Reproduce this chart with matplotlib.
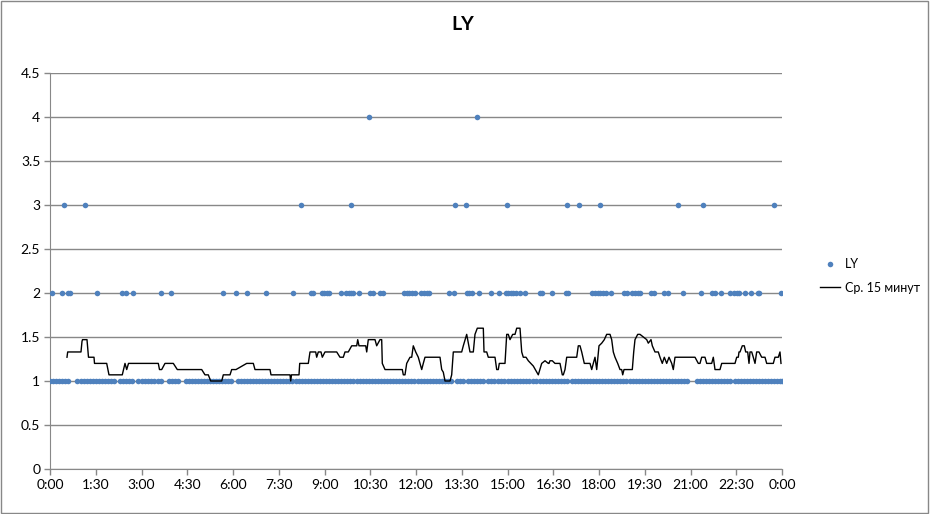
import numpy as np
import matplotlib
matplotlib.use('Agg')
import matplotlib.pyplot as plt
from matplotlib.patches import Rectangle

# time of day in hours, LY value at that time
t_one = [0.0, 0.1, 0.2, 0.3, 0.4, 0.5, 0.6,
         0.9, 1.0, 1.1, 1.2, 1.3, 1.4, 1.5, 1.6, 1.7, 1.8, 1.9, 2.0, 2.1,
         2.3, 2.4, 2.5, 2.6, 2.7, 2.9, 3.0, 3.1, 3.2, 3.3, 3.4, 3.55, 3.65,
         3.9, 4.0, 4.1, 4.2, 4.45, 4.55, 4.65, 4.75, 4.85, 4.95, 5.05, 5.15, 5.25,
         5.35, 5.45, 5.55, 5.65, 5.75, 5.85, 5.95,
         6.15, 6.25, 6.35, 6.45, 6.55, 6.65, 6.75, 6.85, 6.95, 7.05, 7.15, 7.25,
         7.35, 7.45, 7.55, 7.65, 7.75, 7.85, 7.95, 8.05, 8.15, 8.25, 8.35, 8.45,
         8.55, 8.65, 8.75, 8.85, 8.95, 9.05, 9.15, 9.25, 9.35, 9.45, 9.55, 9.65,
         9.75, 9.85, 9.95, 10.05, 10.15, 10.25, 10.35, 10.45, 10.55, 10.65, 10.75,
         10.85, 10.95, 11.05, 11.15, 11.25, 11.35, 11.45, 11.55, 11.65, 11.75,
         11.85, 11.95, 12.05, 12.15, 12.25, 12.35, 12.45, 12.55, 12.65, 12.75,
         12.85, 12.95, 13.05, 13.15, 13.35, 13.45, 13.55,
         13.7, 13.8, 13.9, 14.0, 14.1, 14.2, 14.35, 14.45, 14.55,
         14.7, 14.8, 14.9, 15.0, 15.1, 15.2, 15.3, 15.4, 15.5, 15.6, 15.7,
         15.85, 15.95, 16.05, 16.15, 16.25, 16.35, 16.45, 16.55, 16.65, 16.75, 16.85, 16.95,
         17.1, 17.2, 17.3, 17.4, 17.5, 17.6, 17.7, 17.8, 17.9, 18.0, 18.1,
         18.2, 18.3, 18.4, 18.5, 18.6, 18.7, 18.8, 18.9, 19.0, 19.1, 19.2, 19.3, 19.4, 19.5,
         19.6, 19.7, 19.8, 19.9, 20.0, 20.1, 20.2, 20.3, 20.4, 20.5, 20.6, 20.7, 20.8, 20.9,
         21.2, 21.3, 21.4, 21.5, 21.6, 21.7, 21.8, 21.9, 22.0, 22.1, 22.2, 22.3,
         22.45, 22.55, 22.65, 22.75, 22.85, 22.95, 23.05, 23.15, 23.25, 23.35,
         23.45, 23.55, 23.65, 23.75, 23.85, 23.95, 24.0]
t_two = [0.075, 0.403, 0.58, 0.656, 1.531, 2.37, 2.492, 2.731, 3.629, 3.967,
         5.682, 6.108, 6.449, 7.092, 7.957, 8.557, 8.613, 8.908, 8.993, 9.072,
         9.157, 9.531, 9.705, 9.793, 9.879, 9.944, 10.141, 10.492, 10.58, 10.82,
         10.908, 11.607, 11.695, 11.78, 11.869, 11.957, 12.174, 12.262, 12.35,
         12.436, 13.092, 13.256, 13.662, 13.748, 13.836, 14.056, 14.459, 14.711,
         14.951, 15.026, 15.105, 15.19, 15.279, 15.41, 15.584, 16.066, 16.141,
         16.449, 16.918, 16.993, 17.78, 17.869, 17.957, 18.043, 18.131, 18.22,
         18.393, 18.83, 18.918, 19.092, 19.18, 19.269, 19.354, 19.705, 19.793,
         20.131, 20.272, 20.754, 21.334, 21.705, 21.803, 21.99, 22.285, 22.436,
         22.525, 22.59, 22.787, 22.994, 23.203, 23.246, 23.957]
t_three = [0.469, 1.138, 8.23, 9.869, 13.269, 13.639, 14.993, 16.941, 17.334,
           18.023, 20.6, 21.4, 23.728]
t_four = [10.449, 13.99]

# 15 minute average line
avg_t = [0.557, 0.58, 1.016, 1.049, 1.066, 1.213, 1.246, 1.262, 1.443, 1.459,
         1.859, 1.934, 2.37, 2.459, 2.515, 2.574, 2.623, 3.551, 3.59, 3.662,
         3.77, 3.934, 4.043, 4.174, 4.974, 5.082, 5.19, 5.269, 5.63, 5.682,
         5.902, 5.957, 6.098, 6.449, 6.666, 6.721, 7.213, 7.246, 7.869, 7.892,
         7.918, 8.164, 8.187, 8.469, 8.525, 8.711, 8.744, 8.797, 8.885, 8.928,
         9.016, 9.4, 9.508, 9.616, 9.672, 9.78, 9.892, 10.056, 10.089, 10.131,
         10.22, 10.351, 10.384, 10.436, 10.656, 10.711, 10.82, 10.875, 10.895,
         10.984, 11.551, 11.584, 11.639, 11.695, 11.803, 11.859, 11.911, 11.99,
         12.075, 12.187, 12.239, 12.295, 12.37, 12.787, 12.843, 12.895, 12.951,
         13.115, 13.17, 13.223, 13.498, 13.551, 13.662, 13.77, 13.879, 13.934,
         14.01, 14.207, 14.23, 14.318, 14.37, 14.59, 14.646, 14.698, 14.731,
         14.918, 14.974, 15.026, 15.082, 15.17, 15.246, 15.302, 15.41, 15.466,
         15.518, 15.607, 15.682, 15.846, 16.01, 16.121, 16.23, 16.338, 16.361,
         16.393, 16.469, 16.557, 16.721, 16.797, 16.83, 16.885, 16.941, 17.269,
         17.321, 17.377, 17.433, 17.518, 17.705, 17.761, 17.813, 17.869, 17.925,
         18.0, 18.089, 18.174, 18.252, 18.305, 18.361, 18.416, 18.469, 18.525,
         18.613, 18.689, 18.744, 18.777, 18.82, 19.092, 19.138, 19.18, 19.269,
         19.344, 19.452, 19.564, 19.616, 19.705, 19.748, 19.836, 19.944, 20.0,
         20.075, 20.141, 20.22, 20.295, 20.384, 20.436, 20.492, 21.148, 21.256,
         21.311, 21.367, 21.475, 21.531, 21.695, 21.748, 21.803, 21.967, 22.023,
         22.459, 22.515, 22.567, 22.59, 22.623, 22.698, 22.764, 22.81, 22.875,
         22.918, 22.951, 23.007, 23.059, 23.115, 23.17, 23.246, 23.334, 23.443,
         23.498, 23.715, 23.77, 23.879, 23.934, 23.967]
avg_v = [1.27, 1.33, 1.33, 1.45, 1.47, 1.47, 1.33, 1.27, 1.27, 1.2,
         1.2, 1.07, 1.07, 1.2, 1.13, 1.2, 1.2, 1.2, 1.13, 1.13,
         1.2, 1.2, 1.2, 1.13, 1.13, 1.07, 1.07, 1.0, 1.0, 1.07,
         1.07, 1.13, 1.13, 1.2, 1.2, 1.13, 1.13, 1.07, 1.07, 1.0,
         1.07, 1.07, 1.2, 1.2, 1.33, 1.33, 1.27, 1.33, 1.33, 1.27,
         1.33, 1.33, 1.27, 1.27, 1.33, 1.33, 1.4, 1.4, 1.47, 1.4,
         1.4, 1.4, 1.33, 1.47, 1.47, 1.4, 1.47, 1.47, 1.2,
         1.13, 1.13, 1.07, 1.07, 1.2, 1.27, 1.27, 1.4, 1.33,
         1.27, 1.13, 1.2, 1.27, 1.27, 1.27, 1.13, 1.1, 1.0,
         1.0, 1.07, 1.33, 1.33, 1.4, 1.53, 1.33, 1.33, 1.53,
         1.6, 1.6, 1.33, 1.33, 1.27, 1.27, 1.13, 1.13, 1.2,
         1.2, 1.53, 1.53, 1.47, 1.53, 1.53, 1.6, 1.6, 1.33,
         1.27, 1.27, 1.23, 1.17, 1.07, 1.2, 1.23, 1.2, 1.2,
         1.23, 1.23, 1.2, 1.2, 1.07, 1.07, 1.13, 1.27, 1.27,
         1.4, 1.4, 1.33, 1.2, 1.2, 1.13, 1.2, 1.27, 1.13,
         1.4, 1.43, 1.47, 1.53, 1.53, 1.53, 1.47, 1.33, 1.27,
         1.2, 1.13, 1.13, 1.07, 1.13, 1.13, 1.33, 1.47, 1.53,
         1.53, 1.5, 1.47, 1.43, 1.47, 1.4, 1.33, 1.33, 1.27,
         1.2, 1.27, 1.2, 1.27, 1.2, 1.13, 1.27, 1.27, 1.2,
         1.2, 1.27, 1.27, 1.2, 1.2, 1.27, 1.13, 1.13, 1.2,
         1.2, 1.27, 1.27, 1.33, 1.33, 1.4, 1.4, 1.33, 1.33,
         1.2, 1.33, 1.33, 1.27, 1.2, 1.33, 1.33, 1.27, 1.27,
         1.2, 1.2, 1.27, 1.27, 1.33, 1.2]

x_ticks = np.arange(0, 24.01, 1.5)
x_labels = ['0:00', '1:30', '3:00', '4:30', '6:00', '7:30', '9:00', '10:30',
            '12:00', '13:30', '15:00', '16:30', '18:00', '19:30', '21:00',
            '22:30', '0:00']
y_ticks = [0, 0.5, 1, 1.5, 2, 2.5, 3, 3.5, 4, 4.5]
y_labels = ['0', '0.5', '1', '1.5', '2', '2.5', '3', '3.5', '4', '4.5']

plt.rcParams['font.family'] = ['Lato', 'DejaVu Sans']

fig = plt.figure(figsize=(9.3, 5.14), dpi=100)
ax = fig.add_axes([50/930, 1-469/514, 732/930, 396/514])

blue = '#4F81BD'
grid_c = '#888888'

# scatter points by value
pts_t = t_one + t_two + t_three + t_four
pts_v = [1]*len(t_one) + [2]*len(t_two) + [3]*len(t_three) + [4]*len(t_four)
ax.plot(pts_t, pts_v, 'o', color=blue, ms=4, mew=0, label='LY', zorder=3)
ax.plot(avg_t, avg_v, '-', color='black', lw=1, label='Ср. 15 минут', zorder=4)

ax.set_xlim(0, 24)
ax.set_ylim(0, 4.5)
ax.set_xticks(x_ticks)
ax.set_xticklabels(x_labels, fontsize=10)
ax.set_yticks(y_ticks)
ax.set_yticklabels(y_labels, fontsize=10)
ax.yaxis.grid(True, color=grid_c, lw=1)
ax.set_axisbelow(True)
for s in ['top', 'right']:
    ax.spines[s].set_visible(False)
for s in ['left', 'bottom']:
    ax.spines[s].set_color(grid_c)
ax.tick_params(axis='both', color=grid_c, length=4, width=1, pad=3)

fig.text(0.498, 1-25/514, 'LY', ha='center', va='center', fontsize=14, fontweight='bold')

leg = fig.legend(loc='center left', bbox_to_anchor=(820/930, 1-276/514), frameon=False,
                 fontsize=9, handlelength=1.6, handletextpad=0.4, borderpad=0,
                 borderaxespad=0, labelspacing=0.9)

# chart border
fig.patches.append(Rectangle((0.001, 0.002), 0.997, 0.996, transform=fig.transFigure,
                             fill=False, edgecolor='#888888', lw=1))

plt.savefig('out.png', dpi=100)
